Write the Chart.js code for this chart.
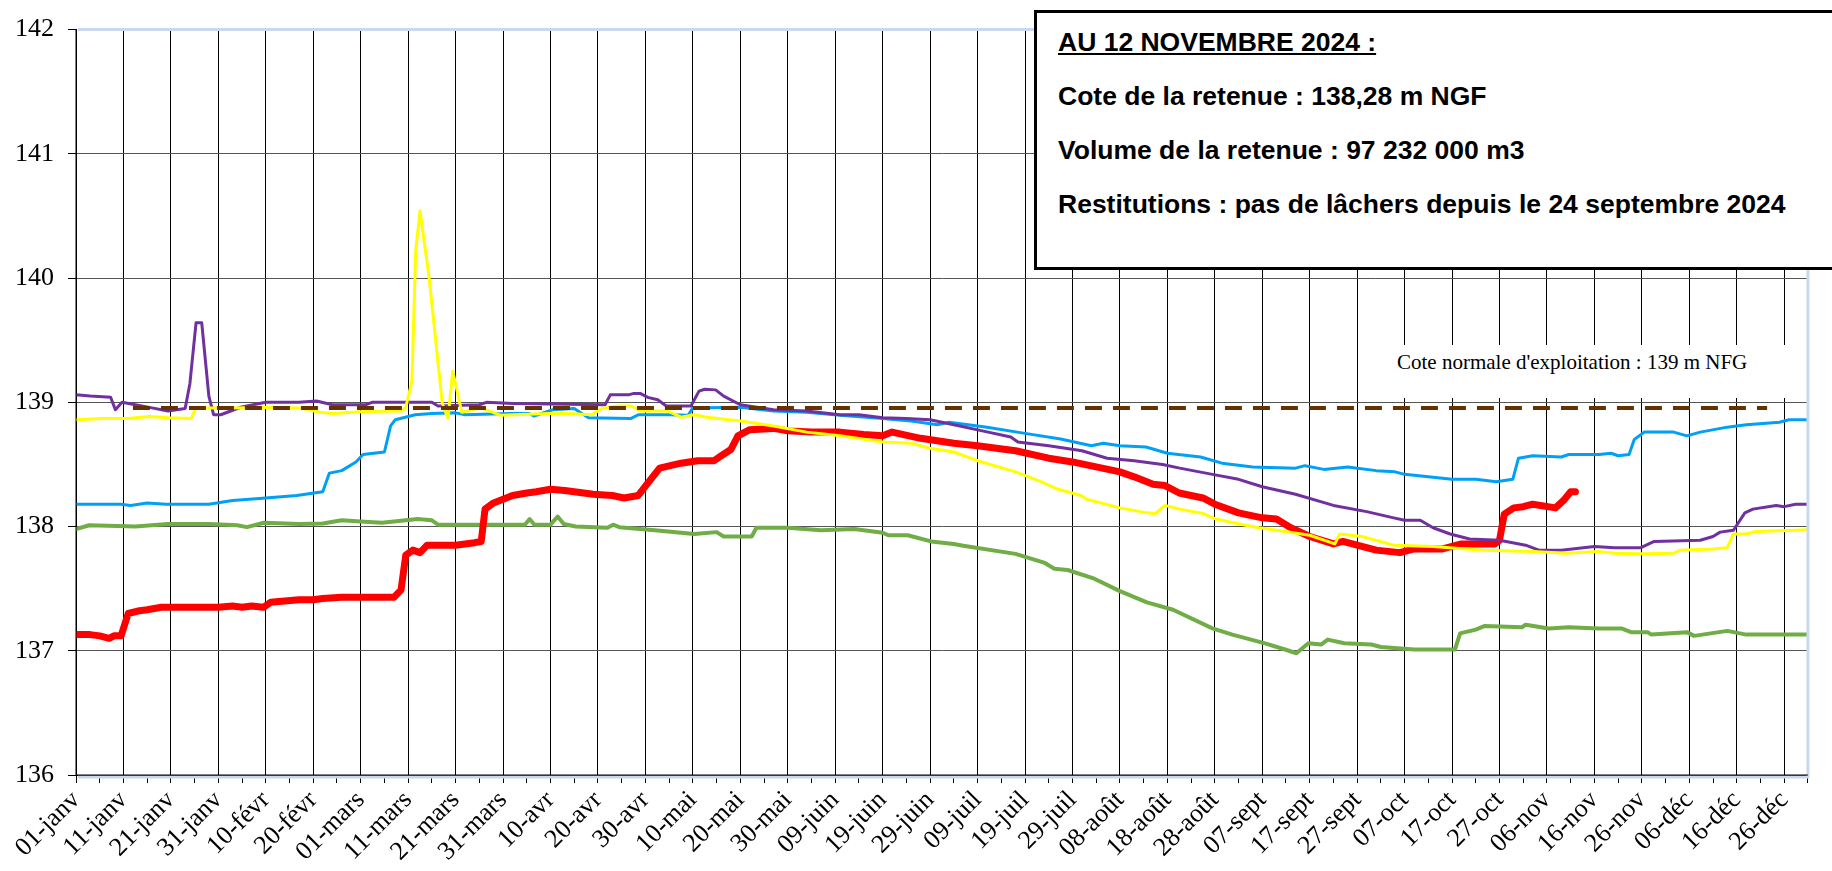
<!DOCTYPE html>
<html lang="fr">
<head>
<meta charset="UTF-8">
<title>Cote de la retenue</title>
<style>
  * { margin: 0; padding: 0; box-sizing: border-box; }
  html, body { overflow: hidden; }
  body { background: #fff; width: 1832px; height: 871px; position: relative; }
  #chart { position: absolute; left: 0; top: 0; }
  .infobox { position: absolute; left: 1034px; top: 10px; right: -40px; height: 260px; border: 3px solid #000; background: #fff;
             padding: 2px 0 0 21px; font-family: "Liberation Sans", Arial, sans-serif; font-weight: bold; font-size: 26.5px; line-height: 54px; color: #000; }
  .infobox .head { text-decoration: underline; }
  .note { position: absolute; left: 1388px; top: 345px; width: 399px; height: 53px; background: #fff;
          padding: 7px 0 0 9px; font-family: "Liberation Serif", "Times New Roman", serif; font-size: 21px; line-height: 21px; color: #000; white-space: nowrap; }
</style>
<script src="https://cdn.jsdelivr.net/npm/chart.js"></script>
</head>
<body>
<canvas id="chart" width="1832" height="871"></canvas>
<div class="infobox">
  <div class="head">AU 12 NOVEMBRE 2024 :</div>
  <div>Cote de la retenue : 138,28 m NGF</div>
  <div>Volume de la retenue : 97 232 000 m3</div>
  <div>Restitutions : pas de lâchers depuis le 24 septembre 2024</div>
</div>
<div class="note">Cote normale d'exploitation : 139 m NFG</div>

<script>
// x = jour de l'année (0 = 01-janv), y = cote en m NGF
const tickLabels = ['01-janv', '11-janv', '21-janv', '31-janv', '10-févr', '20-févr', '01-mars', '11-mars', '21-mars', '31-mars',
  '10-avr', '20-avr', '30-avr', '10-mai', '20-mai', '30-mai', '09-juin', '19-juin', '29-juin', '09-juil', '19-juil', '29-juil',
  '08-août', '18-août', '28-août', '07-sept', '17-sept', '27-sept', '07-oct', '17-oct', '27-oct', '06-nov', '16-nov', '26-nov',
  '06-déc', '16-déc', '26-déc'];

const redDays = [0, 3, 5, 7, 8, 9.5, 11, 13, 15, 18, 25, 30, 33, 35, 37, 39.5, 41, 44, 47, 50, 52, 56, 60, 67, 68.5, 69.5, 71, 72.5, 74,
  80, 84, 85.4, 86.2, 88, 90, 92, 95, 97, 100, 103, 105, 109, 113, 115.5, 118.5, 120.5, 123, 127.5, 131, 134.5, 136, 138, 139.5,
  142, 147, 150, 155, 161, 166, 170, 172, 178, 185, 190, 198, 205, 210, 215, 220, 223, 227, 229.5, 232.5, 237.5, 240, 245, 250,
  253, 256, 260, 265, 267, 270, 274, 279, 282, 288, 292, 299, 300, 301, 303, 305, 307, 311.8, 313.5, 315, 316];
const redLevels = [137.13, 137.13, 137.12, 137.10, 137.12, 137.12, 137.30, 137.32, 137.33, 137.35, 137.35, 137.35, 137.36, 137.35,
  137.36, 137.35, 137.39, 137.40, 137.41, 137.41, 137.42, 137.43, 137.43, 137.43, 137.49, 137.77, 137.81, 137.79, 137.85,
  137.85, 137.87, 137.88, 138.14, 138.19, 138.22, 138.25, 138.27, 138.28, 138.30, 138.29, 138.28, 138.26, 138.25, 138.23, 138.25,
  138.35, 138.47, 138.51, 138.53, 138.53, 138.57, 138.62, 138.73, 138.78, 138.79, 138.77, 138.76, 138.76, 138.74, 138.73, 138.76,
  138.71, 138.67, 138.65, 138.61, 138.55, 138.52, 138.48, 138.44, 138.40, 138.34, 138.33, 138.27, 138.23, 138.18, 138.11, 138.07,
  138.06, 137.99, 137.92, 137.86, 137.88, 137.85, 137.81, 137.79, 137.82, 137.82, 137.86, 137.86, 137.89, 138.10, 138.15, 138.16,
  138.18, 138.15, 138.21, 138.28, 138.28];

const blueDays = [0, 9.5, 11.5, 15, 19, 28, 33, 40, 46.5, 52, 53.4, 56, 59, 60.5, 65, 66.3, 67.3, 71.5, 75, 80, 82, 91.5, 95.5, 96.5,
  100.5, 105, 108, 117, 118.5, 125, 129, 130, 140, 147, 154, 161, 170, 176, 181.5, 184, 192, 200, 207.5, 214, 216.5, 220, 225.5,
  230, 237, 241.5, 248, 257, 259, 263, 268, 274, 278, 280, 290, 295, 299.3, 302.8, 304, 307, 313, 314.6, 321, 323.5, 325, 327.3,
  328.4, 330.5, 336.7, 339.5, 342.3, 348, 352, 359, 361, 365];
const blueLevels = [138.18, 138.18, 138.17, 138.19, 138.18, 138.18, 138.21, 138.23, 138.25, 138.28, 138.43, 138.45, 138.52, 138.58,
  138.60, 138.81, 138.86, 138.90, 138.91, 138.915, 138.90, 138.91, 138.91, 138.89, 138.94, 138.95, 138.875, 138.87, 138.90,
  138.90, 138.895, 138.955, 138.96, 138.93, 138.92, 138.895, 138.87, 138.85, 138.82, 138.84, 138.80, 138.75, 138.705, 138.65,
  138.67, 138.65, 138.64, 138.59, 138.56, 138.51, 138.48, 138.47, 138.49, 138.46, 138.48, 138.45, 138.44, 138.42, 138.38,
  138.38, 138.36, 138.38, 138.55, 138.57, 138.56, 138.58, 138.58, 138.59, 138.57, 138.58, 138.70, 138.76, 138.76, 138.73,
  138.76, 138.80, 138.82, 138.84, 138.86, 138.86];

const purpleDays = [0, 3, 7.3, 8.3, 9.7, 12.5, 16, 19.4, 23, 24, 25.3, 26.5, 28, 29, 30.5, 34.7, 40, 47, 50.7, 54, 61, 62.4, 75, 76.3,
  85, 86.5, 92, 111.5, 112.6, 116.4, 117.4, 119, 120.5, 122.6, 124.4, 129.6, 131.3, 132.5, 134.8, 136.5, 140, 147, 154, 161, 165,
  170, 175, 180, 185, 191, 197, 198.5, 205, 212, 217.3, 223, 229, 232.6, 239.5, 245, 250, 257, 265, 272, 277.7, 280, 283.3, 286,
  289.6, 293.7, 300, 305.5, 308.3, 313, 320, 324.3, 329.8, 332.6, 342.3, 345, 346.5, 349.3, 351.7, 353.4, 358.3, 360, 362.4, 365];
const purpleLevels = [139.06, 139.05, 139.04, 138.94, 139.00, 138.98, 138.955, 138.93, 138.95, 139.15, 139.64, 139.64, 139.05,
  138.90, 138.90, 138.96, 139.00, 139.00, 139.01, 138.98, 138.98, 139.00, 139.00, 138.97, 138.98, 139.00, 138.99, 138.98,
  139.06, 139.06, 139.07, 139.07, 139.04, 139.02, 138.97, 138.97, 139.09, 139.105, 139.10, 139.05, 138.98, 138.94, 138.93,
  138.90, 138.90, 138.875, 138.87, 138.86, 138.82, 138.77, 138.72, 138.68, 138.65, 138.61, 138.55, 138.53, 138.50, 138.47,
  138.42, 138.38, 138.32, 138.26, 138.17, 138.12, 138.07, 138.05, 138.05, 137.99, 137.94, 137.90, 137.89, 137.85, 137.81,
  137.81, 137.84, 137.83, 137.83, 137.88, 137.89, 137.92, 137.955, 137.97, 138.11, 138.14, 138.17, 138.16, 138.18, 138.18];

const yellowDays = [0, 5.5, 11, 15.3, 19.4, 24.3, 25.3, 33, 40, 47, 51.4, 54, 61, 68.7, 69.5, 70.8, 71.6, 72.5, 74.4, 77.2, 78.4,
  79.4, 81.3, 85.4, 89.5, 99.7, 104, 108.7, 110.8, 114.3, 117, 119, 124.7, 127.5, 130.3, 133, 140, 147, 154, 161, 170, 176, 180,
  185, 190, 198, 203.5, 207, 211.8, 213, 220, 225.7, 227.5, 229.5, 232.6, 237.5, 240.2, 246.5, 249.3, 253, 260, 265.3, 266.3,
  271, 277.7, 286, 296.5, 307, 314, 320.8, 324.3, 329.8, 336.7, 338, 345, 348, 349.3, 352, 354, 362.4, 365];
const yellowLevels = [138.86, 138.87, 138.87, 138.885, 138.875, 138.87, 138.955, 138.955, 138.96, 138.955, 138.92, 138.91,
  138.925, 138.93, 138.96, 139.17, 140.22, 140.54, 140.01, 138.99, 138.87, 139.25, 138.92, 138.955, 138.895, 138.91, 138.91,
  138.90, 138.95, 138.97, 138.97, 138.93, 138.93, 138.88, 138.90, 138.88, 138.85, 138.81, 138.76, 138.73, 138.68, 138.67,
  138.63, 138.60, 138.53, 138.44, 138.36, 138.30, 138.25, 138.22, 138.15, 138.11, 138.105, 138.17, 138.14, 138.105, 138.06,
  138.01, 137.99, 137.97, 137.93, 137.86, 137.94, 137.92, 137.85, 137.84, 137.81, 137.80, 137.785, 137.80, 137.785, 137.78,
  137.785, 137.81, 137.82, 137.83, 137.94, 137.94, 137.96, 137.97, 137.975];

const greenDays = [0, 2.8, 12.5, 19.4, 28, 34, 36, 39.6, 47, 52, 56, 60, 64.5, 68, 72, 75, 76.3, 91.5, 94.6, 95.6, 96.6, 100, 101.5,
  102.8, 105.3, 112, 113.2, 114.5, 122, 130.3, 135, 136.5, 142.4, 143.4, 150, 157, 164, 170, 171.2, 175.3, 180.2, 185, 187, 198,
  204, 206.2, 209, 214.6, 220, 225.7, 231.2, 239.5, 243.7, 250.6, 254.8, 257.2, 259.7, 262.4, 263.8, 267.3, 273, 275, 282,
  290.6, 291.7, 295, 296.9, 304.8, 305.5, 310.4, 314.6, 320.8, 325.7, 327.7, 331.2, 332, 339.5, 341, 348, 352, 357.6, 365];
const greenLevels = [137.98, 138.01, 138.00, 138.02, 138.02, 138.01, 137.995, 138.03, 138.02, 138.025, 138.05, 138.04, 138.03,
  138.045, 138.06, 138.05, 138.015, 138.015, 138.015, 138.06, 138.015, 138.015, 138.08, 138.02, 138.00, 137.99, 138.015,
  137.995, 137.97, 137.94, 137.955, 137.92, 137.92, 137.99, 137.99, 137.97, 137.98, 137.95, 137.93, 137.93, 137.88, 137.86,
  137.845, 137.78, 137.71, 137.66, 137.65, 137.58, 137.48, 137.39, 137.33, 137.18, 137.13, 137.06, 137.01, 136.98, 137.06,
  137.05, 137.09, 137.06, 137.05, 137.03, 137.01, 137.01, 137.14, 137.17, 137.20, 137.19, 137.21, 137.18, 137.19, 137.18,
  137.18, 137.15, 137.15, 137.13, 137.15, 137.12, 137.16, 137.13, 137.13, 137.13];

// cote normale d'exploitation
const normalDays = [12, 356.4];
const normalLevels = [138.955, 138.955];

function points(days, levels) {
  return days.map((d, i) => ({ x: d, y: levels[i] }));
}

function line(data, color, width, dash) {
  return { data: data, borderColor: color, borderWidth: width, borderDash: dash || [], pointRadius: 0,
           tension: 0, fill: false, borderJoinStyle: 'round', borderCapStyle: 'round' };
}

// premier jeu = dessiné au-dessus
const datasets = [
  line(points(normalDays, normalLevels), '#663300', 4, [17, 11]),
  line(points(yellowDays, yellowLevels), '#FFFF00', 3),
  line(points(purpleDays, purpleLevels), '#7030A0', 3),
  line(points(redDays, redLevels), '#FF0000', 7),
  line(points(blueDays, blueLevels), '#00A0F6', 3),
  line(points(greenDays, greenLevels), '#70AD47', 4)
];
datasets[0].borderCapStyle = 'butt';

// cadre bleu clair de la zone de tracé
const frame = {
  id: 'frame',
  afterDatasetsDraw(chart) {
    const a = chart.chartArea, c = chart.ctx;
    c.save();
    c.strokeStyle = '#c9d7ef';
    c.lineWidth = 3;
    c.beginPath();
    c.moveTo(a.left + 2, a.top);
    c.lineTo(a.right, a.top);
    c.lineTo(a.right, a.bottom + 2);
    c.lineTo(a.left + 2, a.bottom + 2);
    c.stroke();
    c.strokeStyle = '#000';
    c.lineWidth = 1;
    c.beginPath();
    c.moveTo(a.left, a.top);
    c.lineTo(a.left, a.bottom);
    c.lineTo(a.right, a.bottom);
    c.stroke();
    c.restore();
  }
};

const serif = "'Liberation Serif', 'Times New Roman', serif";
Chart.defaults.font.family = serif;

function draw() {
  new Chart(document.getElementById('chart'), {
    type: 'line',
    data: { datasets: datasets },
    plugins: [frame],
    options: {
      responsive: false,
      animation: false,
      layout: { padding: { top: 15, right: 2, left: 0, bottom: 0 } },
      plugins: { legend: { display: false }, tooltip: { enabled: false } },
      scales: {
        x: {
          type: 'linear', min: 0, max: 365,
          afterFit(s) { s.height = 96; },
          ticks: {
            stepSize: 5, autoSkip: false, minRotation: 45, maxRotation: 45, padding: 2, color: '#000',
            font: { family: serif, size: 26 },
            callback: v => (v % 10 === 0 ? tickLabels[v / 10] : '')
          },
          grid: {
            color: c => (c.tick && c.tick.value % 10 === 0 && c.tick.value < 365 ? '#000' : 'rgba(0,0,0,0)'),
            tickColor: '#000', tickLength: 8, lineWidth: 1
          },
          border: { color: '#000', width: 1 }
        },
        y: {
          min: 136, max: 142,
          afterFit(s) { s.width = 76; },
          ticks: { stepSize: 1, padding: 14, color: '#000', font: { family: serif, size: 26 } },
          grid: {
            color: c => (c.tick && c.tick.value === 142 ? 'rgba(0,0,0,0)' : '#555'),
            tickColor: '#000', tickLength: 8, lineWidth: 1
          },
          border: { color: '#000', width: 1 }
        }
      }
    }
  });
}

document.fonts.load("26px 'Liberation Serif'").then(draw, draw);
</script>
</body>
</html>
